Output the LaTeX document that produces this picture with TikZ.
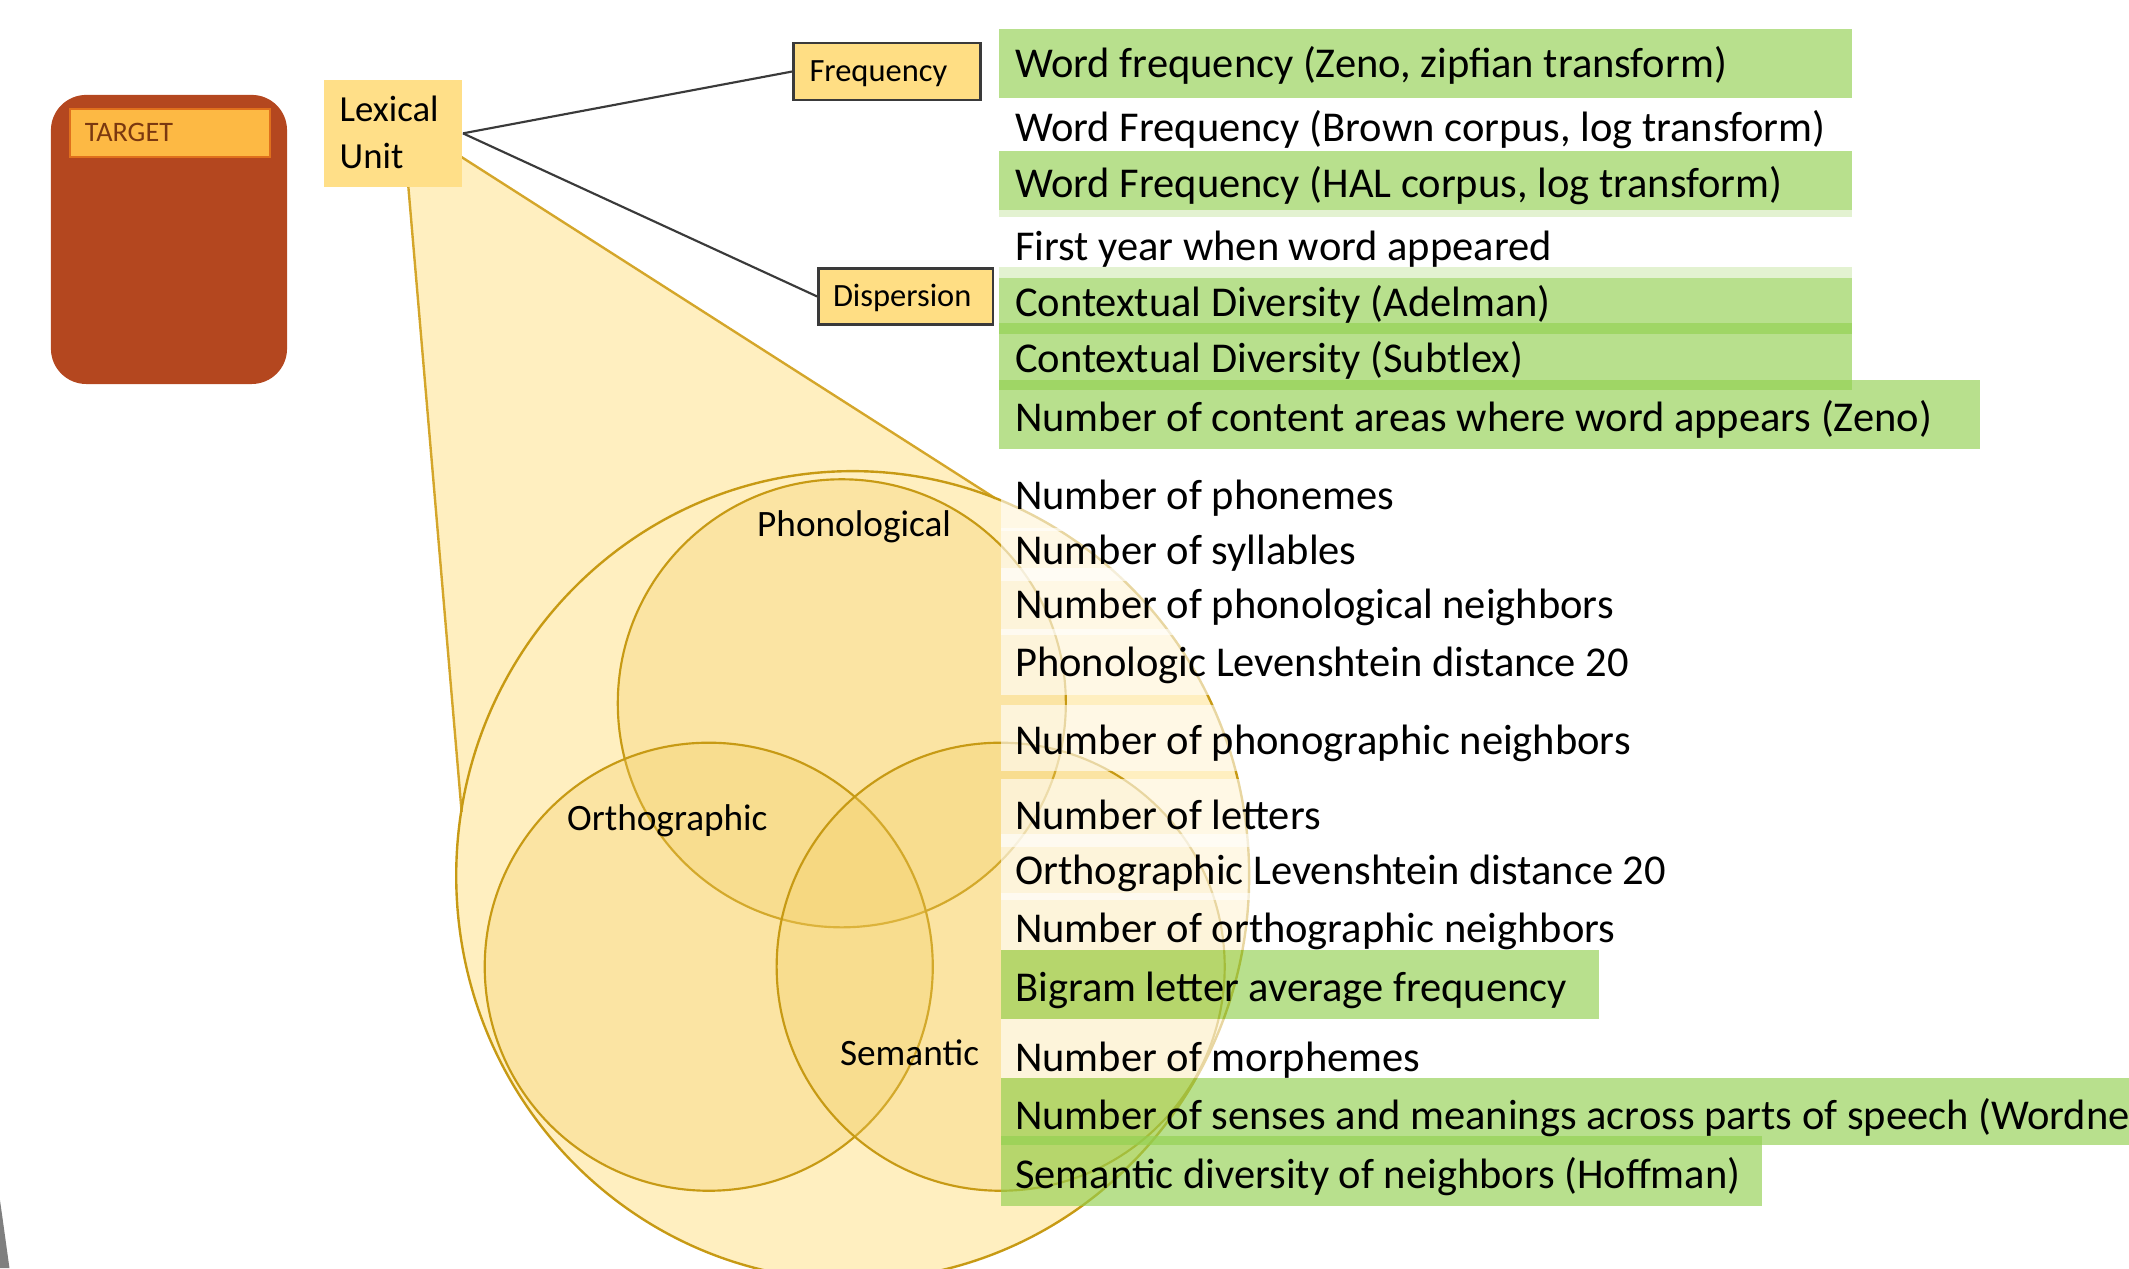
\documentclass[tikz,border=0pt]{standalone}
\usepackage{fontspec}
\setmainfont{Carlito}
\definecolor{rowgreen}{HTML}{92D050}
\definecolor{conefill}{HTML}{FFEFC0}
\definecolor{coneline}{HTML}{D4A62A}
\definecolor{venncol}{HTML}{F2CD62}
\definecolor{vennline}{HTML}{C79A14}
\definecolor{lexfill}{HTML}{FFDF88}
\definecolor{boxfill}{HTML}{FFDE84}
\definecolor{tgtfill}{HTML}{B4471F}
\definecolor{tgtbar}{HTML}{FDB944}
\definecolor{tgtbarline}{HTML}{E0701C}
\definecolor{tgttext}{HTML}{7A3810}
\definecolor{linkcol}{HTML}{3A3A3A}
\definecolor{sliver}{HTML}{7F7F7F}
\tikzset{
  listtxt/.style={anchor=base west, inner sep=0pt, font=\fontsize{8.9}{10}\selectfont, text=black},
  greenrow/.style={fill=rowgreen, fill opacity=0.65, draw=none},
  whiterow/.style={fill=white, fill opacity=0.6, draw=none},
  vennset/.style={fill=venncol, fill opacity=0.3, draw=vennline, line width=0.45pt},
  vlabel/.style={anchor=base west, inner sep=0pt, font=\fontsize{7.8}{9}\selectfont},
  catbox/.style={draw=linkcol, line width=0.5pt, fill=boxfill, anchor=north west, inner sep=0pt},
  cattxt/.style={anchor=base west, inner sep=0pt, font=\fontsize{6.8}{8}\selectfont},
  link/.style={draw=linkcol, line width=0.45pt},
}
\begin{document}
\begin{tikzpicture}[x=0.01cm,y=-0.01cm]
\useasboundingbox (0,0) rectangle (1568,934);
\clip (0,0) rectangle (1568,934);

% grey sliver at lower left edge
\fill[sliver] (0,884) .. controls (3,905) and (5,920) .. (7,934) -- (0,934) -- cycle;

% cone and outer ellipse
\coordinate (cL1) at (300.7,137);
\coordinate (cR1) at (339.5,115.4);
\coordinate (cR2) at (733,367);
\coordinate (cL2) at (340,598);
\coordinate (bigc) at (628,645);
\fill[conefill] (cL1) -- (cR1) -- (cR2) -- (bigc) -- (cL2) -- cycle;
\fill[conefill] (bigc) ellipse [x radius=292, y radius=298];
\draw[coneline, line width=0.5pt] (cL1) -- (cL2);
\draw[coneline, line width=0.5pt] (cR1) -- (cR2);
\draw[vennline, line width=0.5pt] (bigc) ellipse [x radius=292, y radius=298];

% Venn circles
\filldraw[vennset] (620,518) circle [radius=165];
\filldraw[vennset] (522,712) circle [radius=165];
\filldraw[vennset] (737,712) circle [radius=165];

\node[vlabel] (phl) at (557,395.5) {Phonological};
\node[vlabel] (orl) at (417,611.5) {Orthographic};
\node[vlabel] (sml) at (618,784.5) {Semantic};

% green rows
\fill[greenrow] (736,21.6) rectangle (1363.7,72);
\fill[greenrow] (736,111) rectangle (1363.7,159.6);
\fill[greenrow] (736,197) rectangle (1363.7,246);
\fill[greenrow] (736,238) rectangle (1363.7,287);
\fill[greenrow] (736,280) rectangle (1458,331);
\fill[greenrow] (737,700) rectangle (1178,750.5);
\fill[greenrow] (737,794) rectangle (1580,843);
\fill[greenrow] (737,837) rectangle (1298,888);

% white rows
\fill[whiterow] (736,73) rectangle (1345,110);
\fill[whiterow] (736,155) rectangle (1363.7,205);
\fill[whiterow] (737,345) rectangle (1250,391);
\fill[whiterow] (737,389) rectangle (1250,428);
\fill[whiterow] (737,418) rectangle (1250,468);
\fill[whiterow] (737,463) rectangle (1250,512);
\fill[whiterow] (737,519) rectangle (1250,568);
\fill[whiterow] (737,574) rectangle (1250,624);
\fill[whiterow] (737,614) rectangle (1250,663);
\fill[whiterow] (737,658) rectangle (1250,700);
\fill[whiterow] (737,750.5) rectangle (1250,794);

% list texts
\node[listtxt] (t1) at (747,57.2) {Word frequency (Zeno, zipfian transform)};
\node[listtxt] (t2) at (747,103.9) {Word Frequency (Brown corpus, log transform)};
\node[listtxt] (t3) at (747,145.6) {Word Frequency (HAL corpus, log transform)};
\node[listtxt] (t4) at (747,191.8) {First year when word appeared};
\node[listtxt] (t5) at (747,232.8) {Contextual Diversity (Adelman)};
\node[listtxt] (t6) at (747,274) {Contextual Diversity (Subtlex)};
\node[listtxt] (t7) at (747,317.5) {Number of content areas where word appears (Zeno)};
\node[listtxt] (t8) at (747,375.6) {Number of phonemes};
\node[listtxt] (t9) at (747,415.5) {Number of syllables};
\node[listtxt] (t10) at (747,455.2) {Number of phonological neighbors};
\node[listtxt] (t11) at (747,498.5) {Phonologic Levenshtein distance 20};
\node[listtxt] (t12) at (747,555.6) {Number of phonographic neighbors};
\node[listtxt] (t13) at (747,610.8) {Number of letters};
\node[listtxt] (t14) at (747,651.3) {Orthographic Levenshtein distance 20};
\node[listtxt] (t15) at (747,694.3) {Number of orthographic neighbors};
\node[listtxt] (t16) at (747,737.3) {Bigram letter average frequency};
\node[listtxt] (t17) at (747,788.8) {Number of morphemes};
\node[listtxt] (t18) at (747,831.8) {Number of senses and meanings across parts of speech (Wordne};
\node[listtxt] (t19) at (747,875.2) {Semantic diversity of neighbors (Hoffman)};

% TARGET block
\node[fill=tgtfill, rounded corners=0.26cm, anchor=north west, minimum width=1.738cm,
      minimum height=2.128cm, inner sep=0pt] (tgt) at (36.8,69.2) {};
\node[fill=tgtbar, draw=tgtbarline, line width=0.4pt, anchor=north west, inner sep=0pt,
      minimum width=1.473cm, minimum height=0.354cm] (tgtbar) at (50.8,79.5) {};
\node[anchor=base west, inner sep=0pt, text=tgttext, font=\fontsize{5.9}{7}\selectfont]
      (tgtlbl) at (61.8,104.2) {TARGET};

% Lexical Unit
\node[fill=lexfill, anchor=north west, inner sep=0pt, minimum width=1.015cm,
      minimum height=0.79cm] (lex) at (238,58) {};
\node[anchor=west, inner sep=0pt, align=left, font=\fontsize{7.7}{9.7}\selectfont]
      (lexlbl) at (249.5,97.6) {Lexical\\Unit};

% category boxes
\node[catbox, minimum width=1.379cm, minimum height=0.422cm] (freq) at (583.4,30.7) {};
\node[cattxt] (freqlbl) at (595.5,60.2) {Frequency};
\node[catbox, minimum width=1.287cm, minimum height=0.41cm] (disp) at (601.9,197) {};
\node[cattxt] (displbl) at (612.8,226) {Dispersion};

\draw[link] (lex.east) -- (freq.west);
\draw[link] (lex.east) -- (disp.west);
\end{tikzpicture}
\end{document}
